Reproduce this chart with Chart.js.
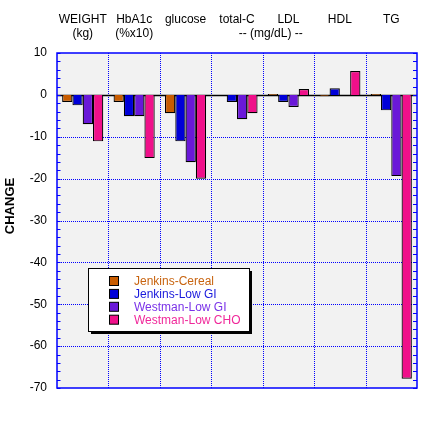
<!DOCTYPE html>
<html>
<head>
<meta charset="utf-8">
<script src="https://cdn.jsdelivr.net/npm/chart.js@4.4.1/dist/chart.umd.min.js"></script>
<style>
html,body{margin:0;padding:0;background:#fff;}
#wrap{width:436px;height:424px;position:relative;}
</style>
</head>
<body>
<div id="wrap"><canvas id="c" width="436" height="424"></canvas></div>
<script>
const categories = [["WEIGHT","(kg)"],["HbA1c","(%x10)"],["glucose",""],["total-C",""],["LDL",""],["HDL",""],["TG",""]];
const unitNote = "-- (mg/dL) --";
const seriesNames = ["Jenkins-Cereal","Jenkins-Low GI","Westman-Low GI","Westman-Low CHO"];
const seriesColors = ["#C85C00","#0000D8","#6A18D8","#F0108A"];
const textColors = ["#C86410","#1A1ADC","#7A32E8","#F0289A"];
const jenkinsCereal = [-1.7, -1.7, -4.4, 0, 0.2, -0.3, 0.2];
const jenkinsLowGI = [-2.5, -5.1, -11.1, -1.7, -1.7, 1.6, -3.7];
const westmanLowGI = [-7.0, -5.1, -16.1, -5.8, -2.9, 0, -19.4];
const westmanLowCHO = [-11.1, -15.1, -20.0, -4.4, 1.4, 5.7, -67.8];
const yMin = -70, yMax = 10, yStep = 10, minorStep = 2;
const yTitle = "CHANGE";

const FONT = "Liberation Sans, Arial, Helvetica, sans-serif";
const BLUE = "#0000FF";

const bgPlugin = {
  id: 'bg',
  beforeDraw(chart) {
    const {ctx, chartArea: a} = chart;
    ctx.save();
    ctx.fillStyle = "#F2F2F2";
    ctx.fillRect(a.left, a.top, a.right - a.left, a.bottom - a.top);
    ctx.restore();
  },
  beforeDatasetsDraw(chart) {
    const {ctx, chartArea: a, scales} = chart;
    ctx.save();
    ctx.fillStyle = BLUE;
    const L = Math.round(a.left), R = Math.round(a.right), T = Math.round(a.top), B = Math.round(a.bottom);
    // horizontal dotted grid
    for (let v = yMin + yStep; v < yMax; v += yStep) {
      if (v === 0) continue;
      const py = Math.round(scales.y.getPixelForValue(v));
      for (let x = L; x < R; x += 2) ctx.fillRect(x, py, 1, 1);
    }
    // vertical dotted grid between categories
    const xs = scales.x;
    for (let i = 1; i < categories.length; i++) {
      const px = Math.round((xs.getPixelForValue(i - 1) + xs.getPixelForValue(i)) / 2);
      for (let y = T; y < B; y += 2) ctx.fillRect(px, y, 1, 1);
    }
    const y0 = Math.round(scales.y.getPixelForValue(0)) + 0.5;
    ctx.strokeStyle = "#000";
    ctx.lineWidth = 1.5;
    ctx.beginPath();
    ctx.moveTo(a.left, y0);
    ctx.lineTo(a.right, y0);
    ctx.stroke();
    ctx.restore();
  },
  afterDatasetsDraw(chart) {
    const {ctx, chartArea: a, scales} = chart;
    ctx.save();
    ctx.strokeStyle = BLUE;
    ctx.lineWidth = 1;
    for (let v = yMin; v <= yMax; v += minorStep) {
      const py = Math.round(scales.y.getPixelForValue(v)) + 0.5;
      ctx.beginPath();
      ctx.moveTo(a.left, py); ctx.lineTo(a.left + 3.5, py);
      ctx.moveTo(a.right, py); ctx.lineTo(a.right - 4, py);
      ctx.stroke();
    }
    ctx.lineWidth = 1.5;
    ctx.strokeRect(a.left, a.top, a.right - a.left, a.bottom - a.top);
    ctx.fillStyle = "#000";
    ctx.font = "12px " + FONT;
    ctx.textAlign = "center";
    ctx.textBaseline = "middle";
    const xs = scales.x;
    const xm = (xs.getPixelForValue(3) + xs.getPixelForValue(4)) / 2 + 8;
    ctx.fillText(unitNote, xm, 34);
    ctx.save();
    ctx.translate(10, 206);
    ctx.rotate(-Math.PI / 2);
    ctx.font = "bold 13px " + FONT;
    ctx.fillText(yTitle, 0, 0);
    ctx.restore();
    const lx = 88, ly = 268, lw = 161, lh = 63;
    ctx.fillStyle = "#000";
    ctx.fillRect(lx + 3, ly + 3, lw, lh);
    ctx.fillStyle = "#fff";
    ctx.fillRect(lx, ly, lw, lh);
    ctx.strokeStyle = "#000";
    ctx.lineWidth = 1;
    ctx.strokeRect(lx + 0.5, ly + 0.5, lw, lh);
    ctx.textAlign = "left";
    chart.data.datasets.forEach((ds, i) => {
      const cy = 281 + i * 12.9;
      ctx.fillStyle = ds.backgroundColor;
      ctx.fillRect(109.5, cy - 4.5, 9, 9);
      ctx.strokeRect(109.5, cy - 4.5, 9, 9);
      ctx.fillStyle = textColors[i];
      ctx.font = "12px " + FONT;
      ctx.fillText(ds.label, 134, cy + 0.5);
    });
    ctx.restore();
  }
};

const data = {
  labels: categories,
  datasets: [jenkinsCereal, jenkinsLowGI, westmanLowGI, westmanLowCHO].map((vals, i) => ({
    label: seriesNames[i],
    data: vals,
    backgroundColor: seriesColors[i],
    borderColor: "#000",
    borderWidth: 1.2,
    categoryPercentage: 0.8,
    barPercentage: 1.0
  }))
};

new Chart(document.getElementById('c'), {
  type: 'bar',
  data,
  plugins: [bgPlugin],
  options: {
    responsive: false,
    animation: false,
    devicePixelRatio: 1,
    layout: {padding: {left: 0, right: 19, top: 0, bottom: 36}},
    plugins: {legend: {display: false}, tooltip: {enabled: false}},
    scales: {
      x: {
        position: 'top',
        offset: true,
        grid: {display: false, drawTicks: false},
        border: {display: false},
        ticks: {
          color: "#000",
          font: {family: FONT, size: 12, lineHeight: 14/12},
          padding: 12,
          maxRotation: 0,
          autoSkip: false
        },
        afterFit(scale) { scale.height = 53; }
      },
      y: {
        min: yMin,
        max: yMax,
        grid: {display: false, drawTicks: false},
        border: {display: false},
        ticks: {
          stepSize: yStep,
          color: "#000",
          font: {family: FONT, size: 12},
          padding: 10
        },
        afterFit(scale) { scale.width = 57; }
      }
    }
  }
});
</script>
</body>
</html>
